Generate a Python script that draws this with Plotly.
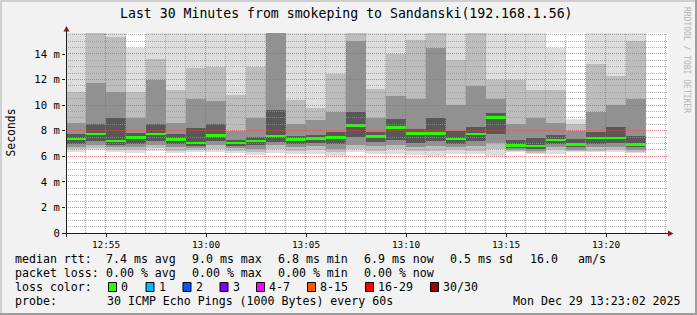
import plotly.graph_objects as go
import pandas as pd
import numpy as np

# ---------------- data ----------------
col_start = pd.date_range("2025-12-29 12:53:00", periods=29, freq="min")

median_ms = [7.35, 7.74, 7.19, 7.45, 7.74, 7.32, 7.03, 7.64, 7.03, 7.19,
             7.60, 7.32, 7.37, 7.45, 8.40, 7.56, 8.24, 7.80, 7.77, 7.35,
             7.74, 9.02, 6.85, 6.82, 7.27, 6.93, 7.43, 7.43, 6.93]

# sorted ping rtt (ms) at ranks 1,3,6,10,15,16,21,25,28,30 of 30 pings
p01 = [6.36, 6.46, 6.30, 6.28, 6.38, 6.22, 6.36, 6.30, 6.22, 6.08,
       6.22, 6.16, 6.16, 6.02, 6.36, 6.15, 6.20, 6.10, 6.02, 6.20,
       6.15, 6.02, 6.36, 6.20, 6.20, 6.34, 6.34, 6.34, 6.28]
p03 = [6.55, 6.65, 6.50, 6.50, 6.62, 6.45, 6.50, 6.55, 6.45, 6.35,
       6.55, 6.45, 6.50, 6.30, 6.60, 6.45, 6.55, 6.40, 6.40, 6.50,
       6.45, 6.60, 6.42, 6.32, 6.48, 6.42, 6.45, 6.50, 6.40]
p06 = [6.75, 6.90, 6.70, 6.75, 6.90, 6.75, 6.62, 6.90, 6.70, 6.60,
       6.85, 6.75, 6.80, 6.60, 6.90, 6.80, 6.90, 6.75, 6.80, 6.75,
       6.80, 7.05, 6.52, 6.45, 6.70, 6.55, 6.70, 6.75, 6.55]
p10 = [7.00, 7.20, 6.90, 6.95, 7.20, 7.00, 6.80, 7.20, 6.85, 6.85,
       7.10, 7.00, 7.05, 7.00, 7.50, 7.10, 7.30, 7.05, 7.20, 7.00,
       7.20, 7.75, 6.65, 6.60, 7.00, 6.70, 7.00, 7.05, 6.70]
p15 = [7.30, 7.70, 7.13, 7.40, 7.70, 7.28, 6.98, 7.60, 6.98, 7.14,
       7.55, 7.27, 7.32, 7.40, 8.35, 7.50, 8.18, 7.75, 7.72, 7.30,
       7.70, 8.95, 6.80, 6.78, 7.22, 6.88, 7.38, 7.38, 6.88]
p16 = [7.40, 7.80, 7.25, 7.50, 7.80, 7.36, 7.08, 7.70, 7.08, 7.24,
       7.70, 7.37, 7.42, 7.50, 8.45, 7.60, 8.30, 7.85, 7.82, 7.40,
       7.80, 9.05, 6.90, 6.88, 7.32, 6.98, 7.50, 7.50, 6.98]
p21 = [7.75, 8.50, 9.00, 7.80, 8.50, 7.75, 8.20, 8.50, 7.30, 7.50,
       9.60, 7.60, 7.70, 7.90, 9.50, 7.90, 8.90, 8.10, 9.00, 8.00,
       8.30, 9.40, 7.30, 7.40, 7.70, 7.35, 7.90, 8.30, 7.60]
p25 = [8.60, 11.7, 11.0, 9.00, 12.0, 8.60, 10.5, 10.3, 8.00, 9.00,
       16.5, 8.50, 8.80, 9.50, 15.0, 9.00, 10.7, 10.5, 14.5, 10.0,
       11.5, 10.5, 8.50, 9.00, 8.60, 8.00, 9.50, 10.0, 10.5]
p28 = [11.0, 16.0, 15.3, 11.0, 13.6, 11.2, 12.9, 13.0, 10.8, 13.0,
       18.0, 10.4, 9.80, 12.4, 17.0, 11.3, 14.0, 15.1, 17.0, 13.5,
       18.0, 12.0, 12.0, 11.2, 11.2, 8.50, 13.2, 12.3, 15.0]
p30 = [16.5, 17.0, 16.5, 14.5, 16.5, 16.5, 16.5, 16.5, 16.5, 16.5,
       20.0, 16.5, 16.5, 16.5, 19.0, 16.5, 16.5, 16.5, 19.0, 16.5,
       19.0, 16.5, 16.5, 16.5, 14.5, 8.90, 16.5, 16.5, 16.5]

y_ticks = [0, 2, 4, 6, 8, 10, 12, 14]
y_ticktext = ["0"] + [f"{v} m" for v in y_ticks[1:]]

legend_line1 = [("median rtt:", 16), ("7.4 ms avg", 107), ("9.0 ms max", 193),
                ("6.8 ms min", 279), ("6.9 ms now", 365), ("0.5 ms sd", 451),
                ("16.0", 531), ("am/s", 579)]
legend_line2 = [("packet loss:", 16), ("0.00 % avg", 107), ("0.00 % max", 193),
                ("0.00 % min", 279), ("0.00 % now", 365)]
loss_labels = ["0", "1", "2", "3", "4-7", "8-15", "16-29", "30/30"]
loss_colors = ["#26ff00", "#00b8ff", "#0059ff", "#7e00ff", "#ff00ff",
               "#ff5500", "#ff0000", "#a10000"]
loss_box_x = [108, 145.5, 182.5, 219.5, 256, 307, 365, 430]

# ---------------- geometry ----------------
W, H = 697, 315
L, R, T, B = 66, 29, 33, 82
PW, PH = W - L - R, H - T - B
PX_PER_MS = 12.786
PX_PER_MIN = 20.0
ymax = PH / PX_PER_MS
x0 = pd.Timestamp("2025-12-29 12:53:00")
x1 = x0 + pd.Timedelta(seconds=60 * PW / PX_PER_MIN)

def fx(px):
    return (px - L) / PW

def fy(py):
    return (H - B - py) / PH

MONO = "DejaVu Sans Mono"

def level_color(level):
    g = int(190 / 15 * (15 - level)) + 50
    return f"rgb({g},{g},{g})"

centers = col_start + pd.Timedelta(seconds=30)
ranks = [p01, p03, p06, p10, p15, p16, p21, p25, p28, p30]
band_levels = [1.5, 4, 7.5, 12, 15, 12, 7.5, 4, 1.5]

fig = go.Figure()
for lo, hi, lev in zip(ranks[:-1], ranks[1:], band_levels):
    lo = np.array(lo)
    hi = np.array(hi)
    fig.add_trace(go.Bar(x=centers, y=hi - lo, base=lo, width=60000,
                         marker=dict(color=level_color(lev), line=dict(width=0)),
                         hoverinfo="skip", showlegend=False))

med = np.array(median_ms)
MED_H = 0.2
fig.add_trace(go.Bar(x=centers, y=[MED_H] * len(med), base=med - MED_H / 2,
                     width=60000, marker=dict(color=loss_colors[0], line=dict(width=0)),
                     hoverinfo="skip", showlegend=False))

shapes = []
# grid on top of the smoke (snapped to pixel rows like rrdtool)
def t2px(t):
    return L + (t - x0).total_seconds() / 60 * PX_PER_MIN

def v2py(v):
    return H - B - v * PX_PER_MS

minor_c = "rgba(150,150,150,0.75)"
major_c = "rgba(222,79,79,0.7)"
for i in range(1, int(ymax / 0.5) + 1):
    v = i * 0.5
    py = np.floor(v2py(v)) + 0.5
    c = major_c if (v % 2 == 0) else minor_c
    shapes.append(dict(type="line", xref="paper", yref="paper", x0=0, x1=1,
                       y0=fy(py), y1=fy(py), layer="above",
                       line=dict(color=c, width=1, dash="1px,1px")))
for t in pd.date_range(x0 + pd.Timedelta(minutes=1), x1, freq="min"):
    px = np.floor(t2px(t)) - 0.5
    c = major_c if t.minute % 5 == 0 else minor_c
    shapes.append(dict(type="line", xref="paper", yref="paper", x0=fx(px), x1=fx(px),
                       y0=0, y1=1, layer="above",
                       line=dict(color=c, width=1, dash="1px,1px")))

# axes lines and arrows
axis_c = "#1f1f1f"
arrow_c = "#801f1f"
shapes.append(dict(type="line", xref="paper", yref="paper", x0=fx(62), x1=fx(669),
                   y0=fy(233.5), y1=fy(233.5), line=dict(color=axis_c, width=1), layer="above"))
shapes.append(dict(type="line", xref="paper", yref="paper", x0=fx(66.5), x1=fx(66.5),
                   y0=fy(237), y1=fy(29), line=dict(color=axis_c, width=1), layer="above"))
shapes.append(dict(type="path", xref="paper", yref="paper", layer="above",
                   path=f"M {fx(63.5)},{fy(31.5)} L {fx(69.5)},{fy(31.5)} L {fx(66.5)},{fy(26)} Z",
                   fillcolor=arrow_c, line=dict(width=0)))
shapes.append(dict(type="path", xref="paper", yref="paper", layer="above",
                   path=f"M {fx(668)},{fy(230.5)} L {fx(668)},{fy(236.5)} L {fx(673.5)},{fy(233.5)} Z",
                   fillcolor=arrow_c, line=dict(width=0)))

# frame
shapes += [
    dict(type="rect", xref="paper", yref="paper", x0=fx(0), x1=fx(W), y0=fy(0), y1=fy(2),
         fillcolor="#cfcfcf", line=dict(width=0), layer="above"),
    dict(type="rect", xref="paper", yref="paper", x0=fx(0), x1=fx(2), y0=fy(0), y1=fy(H),
         fillcolor="#cfcfcf", line=dict(width=0), layer="above"),
    dict(type="rect", xref="paper", yref="paper", x0=fx(0), x1=fx(W), y0=fy(H - 2), y1=fy(H),
         fillcolor="#9e9e9e", line=dict(width=0), layer="above"),
    dict(type="rect", xref="paper", yref="paper", x0=fx(W - 2), x1=fx(W), y0=fy(0), y1=fy(H),
         fillcolor="#9e9e9e", line=dict(width=0), layer="above"),
]

annotations = []
def txt(s, px, py, size=11.6, xanchor="left", color="black", angle=0):
    annotations.append(dict(text=s, x=fx(px), y=fy(py), xref="paper", yref="paper",
                            xanchor=xanchor, yanchor="middle", showarrow=False,
                            textangle=angle, borderpad=0, borderwidth=0,
                            font=dict(family=MONO, size=size, color=color)))

txt("Last 30 Minutes from smokeping to Sandanski(192.168.1.56)", 346.5, 13.5,
    size=13.2, xanchor="center")
txt("Seconds", 10.5, 133, size=11.4, xanchor="center", angle=-90)
txt("RRDTOOL / TOBI OETIKER", 687, 60, size=8, xanchor="center", color="#b4b4b4", angle=90)

LINE_Y = [258.7, 272.7, 286.7, 300.7]
for s, px in legend_line1:
    txt(s, px - 0.8, LINE_Y[0])
for s, px in legend_line2:
    txt(s, px - 0.8, LINE_Y[1])
txt("loss color:", 15.2, LINE_Y[2])
for lab, colr, bx in zip(loss_labels, loss_colors, loss_box_x):
    shapes.append(dict(type="rect", xref="paper", yref="paper",
                       x0=fx(bx + 0.5), x1=fx(bx + 8.5), y0=fy(282.5), y1=fy(291.5),
                       fillcolor=colr, line=dict(color="black", width=1), layer="above"))
    txt(lab, bx + 13.2, LINE_Y[2])
txt("probe:", 15.2, LINE_Y[3])
txt("30 ICMP Echo Pings (1000 Bytes) every 60s", 106.5, LINE_Y[3])
txt("Mon Dec 29 13:23:02 2025", 681, LINE_Y[3], xanchor="right")

x_ticks = pd.date_range("2025-12-29 12:55", "2025-12-29 13:20", freq="5min")

fig.update_layout(
    width=W, height=H,
    margin=dict(l=L, r=R, t=T, b=B, pad=0),
    paper_bgcolor="#f2f2f2", plot_bgcolor="#ffffff",
    barmode="overlay", bargap=0,
    showlegend=False,
    xaxis=dict(type="date", range=[x0, x1], showgrid=False, zeroline=False,
               showline=False, tickvals=list(x_ticks),
               ticktext=[t.strftime("%H:%M") for t in x_ticks],
               ticks="outside", ticklen=3, tickcolor=axis_c, tickwidth=1,
               tickfont=dict(family=MONO, size=9.4, color="black"), fixedrange=True),
    yaxis=dict(range=[0, ymax], showgrid=False, zeroline=False, showline=False,
               tickvals=y_ticks, ticktext=y_ticktext,
               ticks="outside", ticklen=3, tickcolor=axis_c, tickwidth=1,
               tickfont=dict(family=MONO, size=10.6, color="black"), fixedrange=True),
    shapes=shapes, annotations=annotations,
)

fig.write_html("out.html")
